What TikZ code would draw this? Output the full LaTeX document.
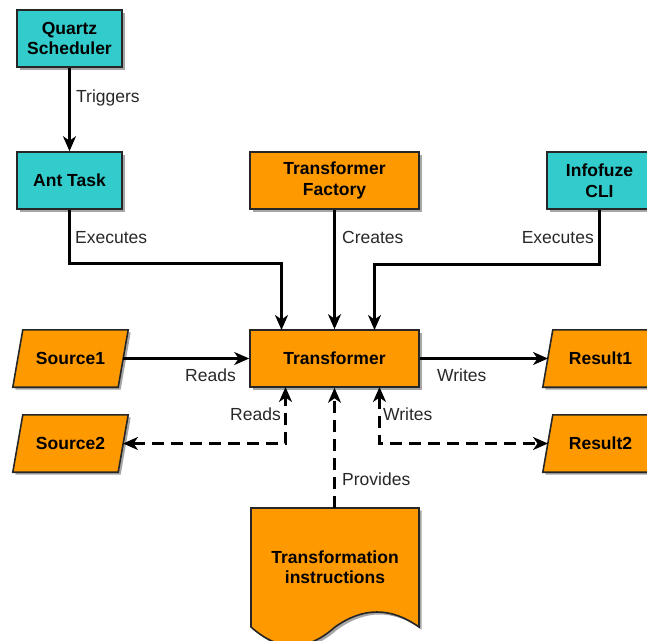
\documentclass[tikz,border=0pt]{standalone}
\usepackage{fontspec}
\setmainfont{Liberation Sans}
\usetikzlibrary{arrows.meta,shadows,calc}
\pgfdeclarelayer{background}
\pgfsetlayers{background,main}
\definecolor{procteal}{RGB}{51,204,204}
\definecolor{procorange}{RGB}{255,153,0}
\definecolor{labelgray}{RGB}{40,40,40}
\tikzset{flowtip/.tip={Stealth[length=15pt,width=13pt,inset=4.5pt]}}
\begin{document}
\begin{tikzpicture}[x=1pt,y=-1pt,
  shade3/.style={drop shadow={shadow xshift=2.5pt,shadow yshift=-2.5pt,fill=black,opacity=0.35}},
  boxtext/.style={align=center,font=\fontsize{17.5}{20.5}\selectfont\bfseries,text=black},
  procbox/.style={boxtext,draw=black!85,line width=1.6pt,minimum height=57pt,shade3},
  tealbox/.style={procbox,fill=procteal,minimum width=105pt},
  orangebox/.style={procbox,fill=procorange,minimum width=169pt},
  dataface/.style={draw=black!85,line width=1.6pt,fill=procorange,shade3},
  datanode/.style={boxtext,minimum width=115pt,minimum height=57pt},
  flow/.style={draw=black,line width=2.3pt,-flowtip},
  dflow/.style={flow,dash pattern=on 12pt off 7pt},
  lbl/.style={font=\fontsize{17.5}{20}\selectfont,text=labelgray,inner sep=0pt}]
\useasboundingbox (0,0) rectangle (647,640);

% process boxes
\node[tealbox] (quartz) at (69.5,38.5) {Quartz\\Scheduler};
\node[tealbox] (ant) at (69.5,180.5) {Ant Task};
\node[orangebox] (factory) at (334.5,180.5) {Transformer\\Factory};
\node[tealbox] (cli) at (599.5,180.5) {Infofuze\\CLI};
\node[orangebox] (trans) at (334.5,358.5) {Transformer};

% data (parallelogram) nodes, outlines on the background layer
\node[datanode] (src1) at (70.5,358.5) {Source1};
\node[datanode] (src2) at (70.5,443.5) {Source2};
\node[datanode] (res1) at (600.5,358.5) {Result1};
\node[datanode] (res2) at (600.5,443.5) {Result2};
\begin{pgfonlayer}{background}
  \foreach \n in {src1,src2,res1,res2}{
    \path[dataface] ($(\n.north west)+(10,0)$) -- (\n.north east)
      -- ($(\n.south east)+(-10,0)$) -- (\n.south west) -- cycle;
  }
\end{pgfonlayer}

% document shape with wavy bottom
\node[boxtext] (instr) at (335,567) {Transformation\\instructions};
\coordinate (instrtop) at (334.5,508);
\begin{pgfonlayer}{background}
  \path[dataface] (251,508) -- (419,508) -- (419,627)
    .. controls (391,607) and (363,607) .. (335,627)
    .. controls (307,652) and (279,652) .. (251,627) -- cycle;
\end{pgfonlayer}

% bend points and docking points of the routed connectors
\coordinate (antbend) at (69.5,263.5);
\coordinate (antin) at (281.5,330);
\coordinate (clibend) at (599.5,264.5);
\coordinate (cliin) at (374.5,330);
\coordinate (src2out) at (123,443.5);
\coordinate (rdin) at (285.5,387);
\coordinate (wrout) at (379.5,387);
\coordinate (res2in) at (548,443.5);
\coordinate (src1out) at (123,358.5);
\coordinate (res1in) at (548,358.5);

% connectors
\draw[flow] (quartz) -- (ant);
\node[lbl,anchor=base west] (ltrig) at (76,102) {Triggers};
\draw[flow] (ant.south) -- (antbend) -- (antbend -| antin) -- (antin);
\node[lbl,anchor=base west] (lexa) at (75,243) {Executes};
\draw[flow] (factory) -- (trans);
\node[lbl,anchor=base west] (lcre) at (342,243) {Creates};
\draw[flow] (cli.south) -- (clibend) -- (clibend -| cliin) -- (cliin);
\node[lbl,anchor=base east] (lexb) at (594,243) {Executes};
\draw[flow] (src1out) -- (trans.west);
\node[lbl,anchor=base east] (lrda) at (236,381) {Reads};
\draw[flow] (trans.east) -- (res1in);
\node[lbl,anchor=base west] (lwra) at (437,381) {Writes};
\draw[dflow,flowtip-flowtip] (src2out) -- (src2out -| rdin) -- (rdin);
\node[lbl,anchor=base east] (lrdb) at (281,420) {Reads};
\draw[dflow,flowtip-flowtip] (wrout) -- (wrout |- res2in) -- (res2in);
\node[lbl,anchor=base west] (lwrb) at (383,420) {Writes};
\draw[dflow] (instrtop) -- (trans.south);
\node[lbl,anchor=base west] (lpro) at (342,485) {Provides};
\end{tikzpicture}
\end{document}
